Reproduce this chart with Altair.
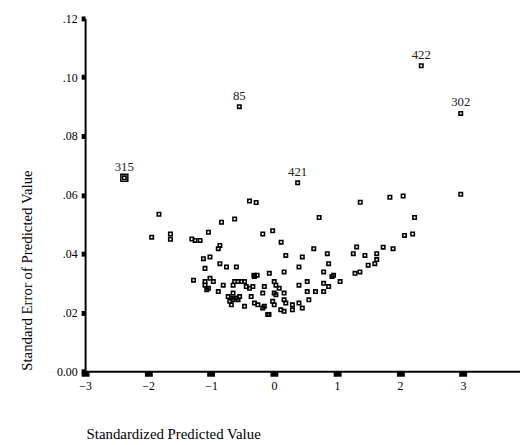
import altair as alt
import pandas as pd

# Standardized predicted value (x) and standard error of predicted value (y)
x_vals = [
    -2.377, -0.551, 0.375, 2.338, 2.965, 2.965, 1.369, 1.840, 2.050, 2.232,
    2.071, 2.201, 1.733, 1.890, 1.631, 1.631, 1.600, 1.495, 1.443, 1.312,
    1.259, 1.364, 1.286, 0.716, -0.284, -0.389, -1.827, -0.625, -0.834, -1.042,
    -0.179, -0.022, -1.943, -1.645, -1.645, -1.305, -1.253, -1.174, 0.113, 0.631,
    0.846, -0.860, -0.885, 0.187, 0.449, -1.017, -1.121, -0.860, -0.755, -0.598,
    0.867, 0.396, -1.096, -0.075, 0.160, 0.788, -0.320, -0.268, -0.311, 0.945,
    0.920, 1.050, -1.278, -1.017, -0.964, -1.096, -1.096, -0.625, -0.571, -0.520,
    -0.468, -0.807, -0.650, -0.441, -0.389, -0.336, 0.003, 0.030, 0.082, -0.154,
    0.396, 0.527, 0.788, 0.867, -1.042, -1.069, -0.885, -0.650, -0.363, -0.179,
    0.003, 0.030, 0.160, 0.527, 0.658, 0.788, -0.728, -0.677, -0.598, -0.546,
    -0.703, -0.650, -0.571, -0.677, -0.468, -0.311, -0.257, -0.154, -0.179, -0.022,
    0.003, 0.160, 0.187, 0.292, 0.292, 0.396, 0.449, 0.553, 0.108, 0.160,
    -0.100, -0.080,
]
y_vals = [
    0.0658, 0.0900, 0.0641, 0.1039, 0.0877, 0.0602, 0.0575, 0.0592, 0.0596, 0.0523,
    0.0462, 0.0467, 0.0422, 0.0417, 0.0400, 0.0380, 0.0366, 0.0361, 0.0394, 0.0423,
    0.0400, 0.0338, 0.0333, 0.0523, 0.0574, 0.0579, 0.0534, 0.0518, 0.0507, 0.0473,
    0.0467, 0.0478, 0.0456, 0.0467, 0.0449, 0.0450, 0.0445, 0.0445, 0.0439, 0.0417,
    0.0400, 0.0428, 0.0417, 0.0394, 0.0389, 0.0389, 0.0383, 0.0366, 0.0355, 0.0355,
    0.0366, 0.0355, 0.0350, 0.0333, 0.0338, 0.0338, 0.0327, 0.0327, 0.0322, 0.0327,
    0.0322, 0.0305, 0.0310, 0.0316, 0.0305, 0.0305, 0.0293, 0.0305, 0.0305, 0.0305,
    0.0305, 0.0293, 0.0293, 0.0288, 0.0282, 0.0288, 0.0305, 0.0293, 0.0282, 0.0288,
    0.0293, 0.0305, 0.0299, 0.0288, 0.0282, 0.0277, 0.0271, 0.0266, 0.0254, 0.0266,
    0.0266, 0.0260, 0.0266, 0.0271, 0.0271, 0.0271, 0.0254, 0.0249, 0.0249, 0.0254,
    0.0238, 0.0243, 0.0243, 0.0226, 0.0221, 0.0232, 0.0226, 0.0221, 0.0215, 0.0238,
    0.0226, 0.0243, 0.0232, 0.0226, 0.0209, 0.0232, 0.0215, 0.0243, 0.0209, 0.0204,
    0.0193, 0.0193,
]

# Labelled cases
label_ids = ["315", "85", "421", "422", "302"]
label_x = [-2.377, -0.551, 0.375, 2.338, 2.965]
label_y = [0.0658, 0.0900, 0.0641, 0.1039, 0.0877]

x_ticks = [-3, -2, -1, 0, 1, 2, 3, 4]
y_ticks = [0.0, 0.02, 0.04, 0.06, 0.08, 0.10, 0.12]

FONT = "Liberation Serif"

pts = pd.DataFrame({"x": x_vals, "y": y_vals})
lab = pd.DataFrame({"id": label_ids, "x": label_x, "y": label_y})
big = lab[lab["id"] == "315"]

xs = alt.Scale(domain=[-3, 4], nice=False, zero=False)
ys = alt.Scale(domain=[0, 0.12], nice=False, zero=False)

x_axis = alt.Axis(
    title="Standardized Predicted Value", values=x_ticks, format="d",
    grid=False, domainColor="black", domainWidth=2,
    tickColor="black", tickWidth=8, tickSize=5, labelPadding=4,
    labelFont=FONT, labelFontSize=12, labelColor="black", labelFlush=False,
    titleFont=FONT, titleFontSize=15, titleFontWeight="normal", titleColor="black",
    titleAlign="left", titleAnchor="start", titleX=1, titleY=68,
    titleBaseline="alphabetic",
)
y_axis = alt.Axis(
    title="Standard Error of Predicted Value", values=y_ticks,
    labelExpr="datum.value == 0 ? '0.00' : replace(format(datum.value, '.2f'), '0.', '.')",
    grid=False, domainColor="black", domainWidth=2,
    tickColor="black", tickWidth=5, tickSize=4, labelPadding=4,
    labelFont=FONT, labelFontSize=12, labelColor="black", labelFlush=False,
    labelBaseline="middle",
    titleFont=FONT, titleFontSize=15, titleFontWeight="normal", titleColor="black",
    titleAngle=270, titleAlign="left", titleAnchor="start",
    titleX=-54, titleY=356, titleBaseline="alphabetic",
)

points = alt.Chart(pts).mark_point(
    shape="square", filled=False, stroke="black", strokeWidth=1.6,
    size=12, opacity=1,
).encode(
    x=alt.X("x:Q", scale=xs, axis=x_axis),
    y=alt.Y("y:Q", scale=ys, axis=y_axis),
)

outer = alt.Chart(big).mark_point(
    shape="square", filled=False, stroke="black", strokeWidth=1.5,
    size=50, opacity=1,
).encode(x=alt.X("x:Q", scale=xs), y=alt.Y("y:Q", scale=ys))

labels = alt.Chart(lab).mark_text(
    font=FONT, fontSize=13, color="#222222", dy=-7,
    baseline="alphabetic", align="center",
).encode(
    x=alt.X("x:Q", scale=xs), y=alt.Y("y:Q", scale=ys), text="id:N",
)

chart = alt.layer(points, outer, labels).properties(
    width=446, height=357,
    autosize=alt.AutoSizeParams(type="none"),
    padding={"left": 78, "top": 8, "right": -6, "bottom": 70},
).configure_view(stroke=None)

chart.save("out.html", embed_options={"renderer": "svg", "actions": False})
